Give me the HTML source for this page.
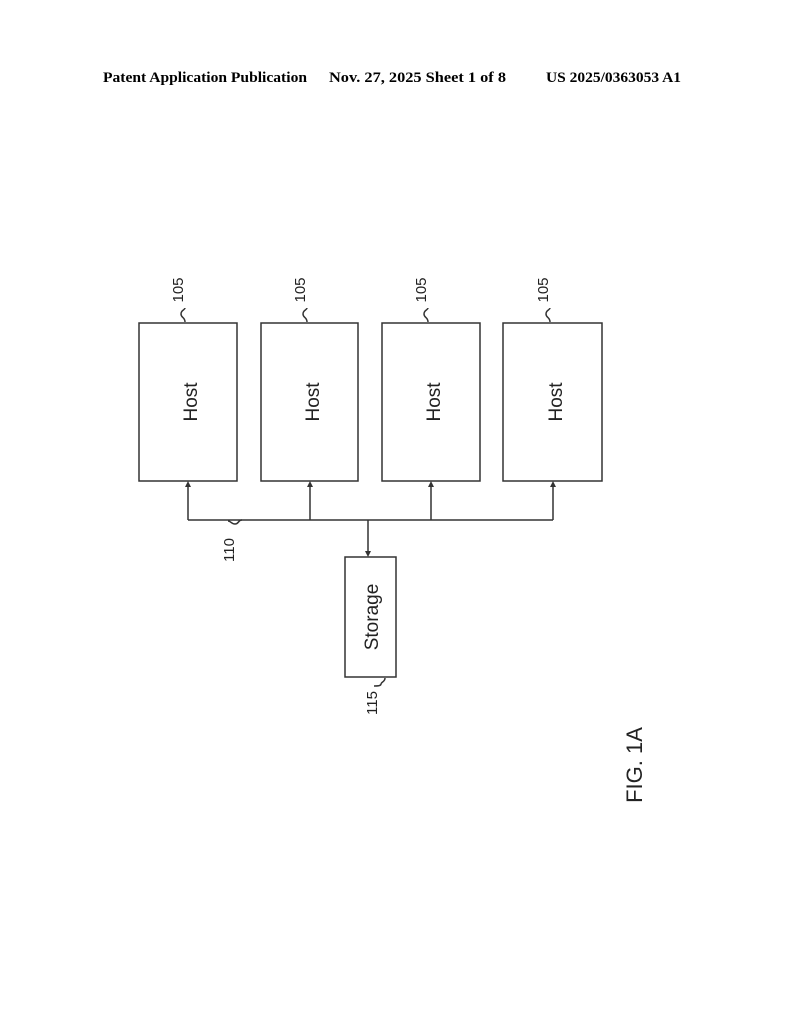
<!DOCTYPE html>
<html><head><meta charset="utf-8"><style>
body{margin:0;background:#fff;width:794px;height:1024px;overflow:hidden}
</style></head><body>
<svg width="794" height="1024" xmlns="http://www.w3.org/2000/svg">
<g font-family="Liberation Serif, serif" font-weight="bold" font-size="15" fill="#000">
<text x="103" y="82" textLength="204" lengthAdjust="spacingAndGlyphs">Patent Application Publication</text>
<text x="329" y="82" textLength="177" lengthAdjust="spacingAndGlyphs">Nov. 27, 2025  Sheet 1 of 8</text>
<text x="546" y="82" textLength="135" lengthAdjust="spacingAndGlyphs">US 2025/0363053 A1</text>
</g>
<g stroke="#333" stroke-width="1.5" fill="none">
<rect x="139" y="323" width="98" height="158"/>
<rect x="261" y="323" width="97" height="158"/>
<rect x="382" y="323" width="98" height="158"/>
<rect x="503" y="323" width="99" height="158"/>
<rect x="345" y="557" width="51" height="120"/>
<path d="M188 520H553M188 520V485M310 520V485M431 520V485M553 520V485M368 520V553"/>
<path d="M185 322c0-5-4-4-4-8s4-4 4-6M307 322c0-5-4-4-4-8s4-4 4-6M428 322c0-5-4-4-4-8s4-4 4-6M550 322c0-5-4-4-4-8s4-4 4-6"/>
<path d="M242 520c-4 0-3 4-7 4s-4-3-7-3"/>
<path d="M385 678c0 4-4 4-4 6s-4 2-7 2"/>
</g>
<g fill="#333">
<path d="M188 481l-3 6h6zM310 481l-3 6h6zM431 481l-3 6h6zM553 481l-3 6h6zM368 557l-3-6h6z"/>
</g>
<g font-family="Liberation Sans, DejaVu Sans, sans-serif" fill="#222">
<text transform="translate(197 402) rotate(-90)" font-size="19" text-anchor="middle">Host</text>
<text transform="translate(319 402) rotate(-90)" font-size="19" text-anchor="middle">Host</text>
<text transform="translate(440 402) rotate(-90)" font-size="19" text-anchor="middle">Host</text>
<text transform="translate(562 402) rotate(-90)" font-size="19" text-anchor="middle">Host</text>
<text transform="translate(378 617) rotate(-90)" font-size="19" text-anchor="middle">Storage</text>
<text transform="translate(183 290) rotate(-90)" font-size="15" text-anchor="middle">105</text>
<text transform="translate(305 290) rotate(-90)" font-size="15" text-anchor="middle">105</text>
<text transform="translate(426 290) rotate(-90)" font-size="15" text-anchor="middle">105</text>
<text transform="translate(548 290) rotate(-90)" font-size="15" text-anchor="middle">105</text>
<text transform="translate(234 550) rotate(-90)" font-size="15" text-anchor="middle">110</text>
<text transform="translate(377 703) rotate(-90)" font-size="15" text-anchor="middle">115</text>
<text transform="translate(642 765) rotate(-90)" font-size="22" text-anchor="middle">FIG. 1A</text>
</g>
</svg>
</body></html>
